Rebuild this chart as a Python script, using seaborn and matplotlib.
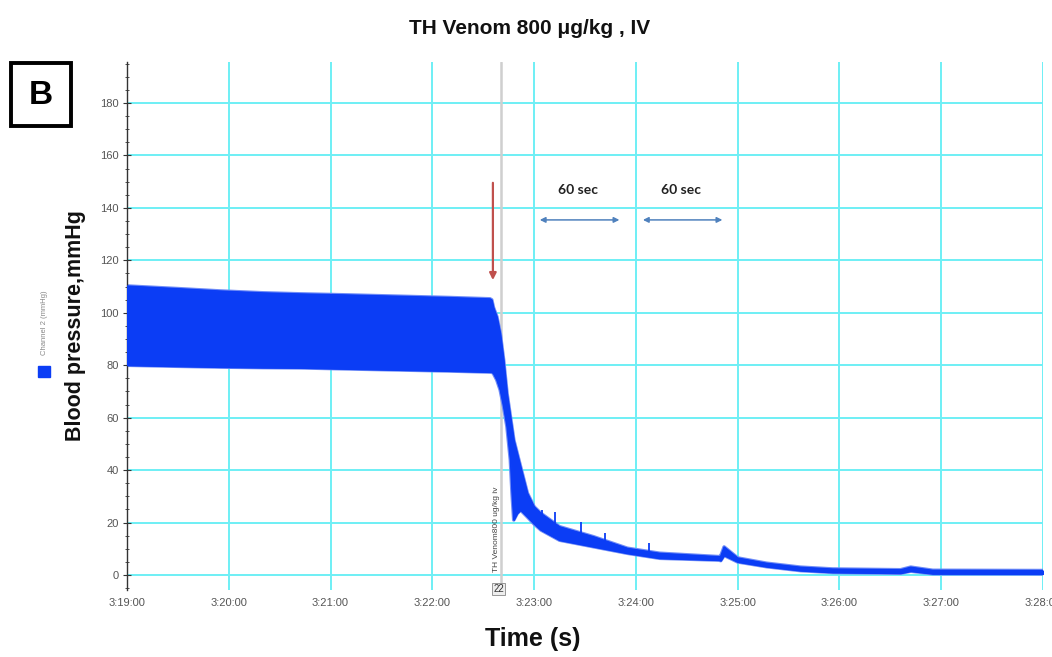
import numpy as np
import pandas as pd
import matplotlib.pyplot as plt
import seaborn as sns
from matplotlib.patches import Rectangle
from matplotlib.ticker import MultipleLocator

# seconds after 3:19:00, envelope of the pulsatile trace (mmHg)
time_s = [0, 30, 55, 80, 102, 130, 160, 190, 214,
          215, 216, 218, 220, 222, 224, 226, 227, 228, 230,
          232, 236, 240, 244, 255, 275, 295, 314, 349, 350,
          352, 360, 377, 397, 416, 456, 462, 475, 540]
bp_upper = [110.2, 109.2, 108.3, 107.6, 107.2, 106.8, 106.3, 105.8, 105.3,
            104.9, 102.0, 98.5, 92.2, 82.0, 69.3, 60.4, 56.0, 51.5, 46.4,
            41.3, 31.2, 26.0, 23.5, 18.4, 14.6, 10.2, 8.3, 7.0, 7.2,
            10.7, 6.5, 4.5, 3.0, 2.3, 2.0, 3.0, 1.8, 1.7]
bp_lower = [80.0, 79.6, 79.3, 79.1, 79.0, 78.6, 78.2, 77.8, 77.4,
            77.4, 76.9, 74.4, 70.6, 64.2, 56.6, 43.9, 31.2, 21.0, 23.5,
            24.8, 22.2, 19.5, 17.2, 13.3, 10.8, 8.3, 6.4, 5.7, 5.5,
            7.5, 5.0, 3.2, 1.7, 1.0, 0.7, 1.5, 0.5, 0.4]

# short spikes on the decay
spike_t = [244.5, 252.4, 267.7, 281.5, 308]
spike_top = [24.8, 24.1, 20.3, 15.9, 12.1]
spike_base = [17.0, 15.0, 12.5, 10.5, 7.5]

tick_s = [0, 60, 120, 180, 240, 300, 360, 420, 480, 540]
tick_labels = ["3:19:00", "3:20:00", "3:21:00", "3:22:00", "3:23:00",
               "3:24:00", "3:25:00", "3:26:00", "3:27:00", "3:28:00"]

injection_s = 220.5
arrow_s = 215.7
interval_start = [241.7, 302.5]
interval_end = [291.9, 352.6]

df = pd.DataFrame({"time_s": time_s, "bp_upper": bp_upper, "bp_lower": bp_lower})

sns.set_theme(style="white")
plt.rcParams["font.family"] = ["Liberation Sans", "DejaVu Sans"]

blue = "#0B3DF5"
halo = "#6F8CF7"
grid_c = "#6EEFF5"

fig = plt.figure(figsize=(10.52, 6.57), dpi=100)
ax = fig.add_axes([0.1207, 0.102, 0.8708, 0.8036])

# soft edge, like the blurred trace in the recording
sns.lineplot(data=df, x="time_s", y="bp_upper", color=halo, lw=2.6, ax=ax, zorder=2.5)
sns.lineplot(data=df, x="time_s", y="bp_lower", color=halo, lw=2.6, ax=ax, zorder=2.5)
ax.fill_between(df["time_s"], df["bp_lower"], df["bp_upper"], color=blue, lw=0.8, zorder=3)
sns.lineplot(data=df, x="time_s", y="bp_upper", color=blue, lw=1.0, ax=ax, zorder=3)
sns.lineplot(data=df, x="time_s", y="bp_lower", color=blue, lw=1.0, ax=ax, zorder=3)
ax.vlines(spike_t, spike_base, spike_top, color=blue, lw=1.3, zorder=3)

ax.axvline(injection_s, color="#CFCFCF", lw=1.8, zorder=2)

ax.set_xlim(0, 540)
ax.set_ylim(-5.7, 195.6)
ax.set_xticks(tick_s)
ax.set_xticklabels(tick_labels)
ax.set_yticks(np.arange(0, 181, 20))
ax.yaxis.set_minor_locator(MultipleLocator(5))
ax.grid(True, which="major", color=grid_c, lw=1.4)
ax.set_axisbelow(True)

for s in ["top", "right", "bottom"]:
    ax.spines[s].set_visible(False)
ax.spines["left"].set_color("#333333")
ax.spines["left"].set_linewidth(1.0)
ax.tick_params(axis="y", which="major", direction="inout", length=6, width=0.8,
               color="#333333", labelsize=8, labelcolor="#555555", pad=3, left=True)
ax.tick_params(axis="y", which="minor", direction="inout", length=3, width=0.6,
               color="#333333", left=True)
ax.tick_params(axis="x", length=0, labelsize=8, labelcolor="#555555", pad=6)
ax.set_xlabel("")
ax.set_ylabel("")

# injection marker
ax.annotate("", xy=(arrow_s, 111.4), xytext=(arrow_s, 150.6),
            arrowprops=dict(arrowstyle="-|>", color="#C0504D", lw=1.6,
                            mutation_scale=10), zorder=5)
ax.text(injection_s - 0.5, 1, "TH Venom800 ug/kg iv", rotation=90, fontsize=6,
        color="#444444", ha="right", va="bottom", zorder=4)
ax.text(injection_s - 1.5, -5.5, "22", fontsize=7, color="#333333", ha="center", va="center",
        bbox=dict(boxstyle="square,pad=0.1", fc="#EEEEEE", ec="#888888", lw=0.6), zorder=4)

# 60 s intervals
for a, b in zip(interval_start, interval_end):
    ax.annotate("", xy=(a, 135.4), xytext=(b, 135.4),
                arrowprops=dict(arrowstyle="<|-|>", color="#4F81BD", lw=1.1,
                                mutation_scale=8))
    ax.text((a + b) / 2 - 1, 146.8, "60 sec", fontsize=10, fontweight="bold",
            family=["Lato", "DejaVu Sans"], color="#222222", ha="center", va="center")

fig.text(0.503, 0.956, "TH Venom 800 \u03bcg/kg , IV", fontsize=15, fontweight="bold",
         ha="center", va="center", color="#111111")
fig.text(0.506, 0.028, "Time (s)", fontsize=18, fontweight="bold",
         family=["Liberation Sans Narrow", "Liberation Sans"],
         ha="center", va="center", color="#111111")
fig.text(0.0713, 0.505, "Blood pressure,mmHg", fontsize=15.5, fontweight="bold",
         rotation=90, ha="center", va="center", color="#111111")

# legend swatch
fig.patches.append(Rectangle((38 / 1052, 1 - 377 / 657), 12 / 1052, 11 / 657,
                             transform=fig.transFigure, color=blue))
fig.text(44 / 1052, 1 - 323 / 657, "Channel 2 (mmHg)", fontsize=5.5, rotation=90,
         ha="center", va="center", color="#888888")

# panel letter
fig.patches.append(Rectangle((11 / 1052, 1 - 126 / 657), 60 / 1052, 63 / 657,
                             transform=fig.transFigure, fill=False, ec="black", lw=2.8))
fig.text(41 / 1052, 1 - 95 / 657, "B", fontsize=24, fontweight="bold",
         ha="center", va="center", color="black")

plt.savefig("out.png", dpi=100)
